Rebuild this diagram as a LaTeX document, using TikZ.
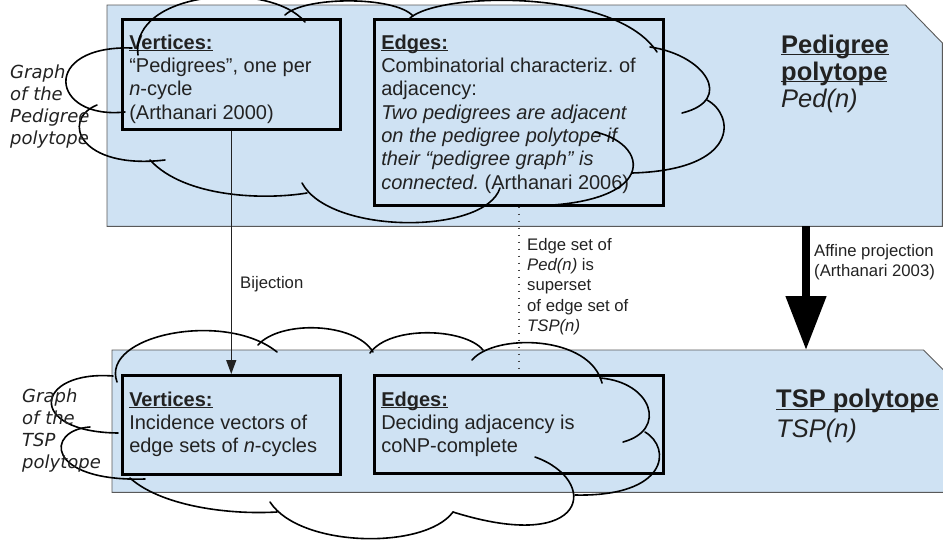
\documentclass[tikz,border=0pt]{standalone}
\usepackage{fontspec}
\setmainfont{Liberation Sans}
\newfontfamily\handfont{DejaVu Sans}
\usetikzlibrary{arrows.meta}
\frenchspacing

\definecolor{panelblue}{HTML}{CFE2F3}
\definecolor{panelline}{HTML}{595959}
\definecolor{inktext}{HTML}{222222}

\newcommand{\cellbody}[4]{\parbox[c][#1][t]{#2}{\raggedright\rule{0pt}{#3}#4}}
\newcommand{\headline}[1]{\underline{\raisebox{0pt}[\height][0pt]{#1}}}

\tikzset{
  panelbox/.style={inner sep=0pt, anchor=north west},
  panelshape/.style={fill=panelblue, draw=panelline, line width=0.9pt},
  infobox/.style={draw, line width=2.5pt, inner xsep=7pt, inner ysep=0pt, anchor=north west,
    text=inktext, font=\fontsize{20}{23.3}\selectfont},
  titletext/.style={anchor=north west, inner sep=0pt, align=left, text=inktext},
  smalltext/.style={inner sep=0pt, align=left, text=inktext, font=\fontsize{16.7}{20.3}\selectfont},
  handnote/.style={anchor=north west, inner sep=0pt, align=left, text=inktext,
    font=\handfont\itshape\fontsize{18}{22}\selectfont},
  cloudline/.style={line width=1.6pt, black, line cap=round},
  bijarrow/.style={draw=inktext, line width=1.3pt, -{Triangle[length=14pt,width=10pt]}},
  projarrow/.style={black, line width=8pt, -{Triangle[length=54pt,width=39pt]}},
  edgedots/.style={draw=inktext!85, line width=1.6pt, dash pattern=on 1.6pt off 5.4pt}
}

\begin{document}
\begin{tikzpicture}[x=1pt, y=-1pt]
  \useasboundingbox (0,0) rectangle (943,542);

  % the two polytopes
  \node[panelbox, minimum width=835pt, minimum height=221pt] (pedpanel) at (107,5) {};
  \filldraw[panelshape] (pedpanel.south west) -- (pedpanel.north west) -- ([xshift=-37pt]pedpanel.north east)
    -- ([yshift=-38pt]pedpanel.north east) -- (pedpanel.south east) -- cycle;
  \node[panelbox, minimum width=848pt, minimum height=142pt] (tsppanel) at (112,350) {};
  \filldraw[panelshape] (tsppanel.south west) -- (tsppanel.north west) -- ([xshift=-37pt]tsppanel.north east)
    -- ([yshift=-37pt]tsppanel.north east) -- (tsppanel.south east) -- cycle;

  \node[infobox] (pedvert) at (121,18) {\cellbody{110pt}{204pt}{30pt}{\textbf{\headline{Vertices:}}\\
    “Pedigrees”, one per\\ \textit{n}-cycle\\ (Arthanari 2000)}};
  \node[infobox] (pededge) at (373,18) {\cellbody{186pt}{275pt}{30pt}{\textbf{\headline{Edges:}}\\
    Combinatorial characteriz. of\\ adjacency:\\ \textit{Two pedigrees are adjacent}\\
    \textit{on the pedigree polytope if}\\ \textit{their “pedigree graph” is}\\
    \textit{connected.} (Arthanari 2006)}};
  \node[infobox] (tspvert) at (121,374) {\cellbody{99pt}{204pt}{31pt}{\textbf{\headline{Vertices:}}\\
    Incidence vectors of\\ edge sets of \textit{n}-cycles}};
  \node[infobox] (tspedge) at (373,374) {\cellbody{98pt}{275pt}{31pt}{\textbf{\headline{Edges:}}\\
    Deciding adjacency is\\ coNP-complete}};

  \node[titletext, font=\fontsize{25.5}{27}\selectfont] (pedtitle) at (781,34.5)
    {\textbf{\headline{Pedigree}}\\ \textbf{\headline{polytope}}\\ \textit{Ped(n)}};
  \node[titletext, font=\fontsize{25.5}{30}\selectfont] (tsptitle) at (776,388.7)
    {\textbf{\headline{TSP polytope}}\\ \textit{TSP(n)}};

  % graph clouds
  \draw[cloudline] (132,48) .. controls (40,45) and (50,120) .. (125,112);
  \draw[cloudline] (138,55) .. controls (130,-10) and (270,-20) .. (305,22);
  \draw[cloudline] (285,15) .. controls (305,-4) and (395,-4) .. (413,16);
  \draw[cloudline] (410,18) .. controls (440,-8) and (615,-12) .. (657,52);
  \draw[cloudline] (650,47) .. controls (705,55) and (735,100) .. (682,113);
  \draw[cloudline] (707,100) .. controls (735,115) and (740,170) .. (632,173);
  \draw[cloudline] (595,132) .. controls (655,145) and (660,215) .. (495,205);
  \draw[cloudline] (500,188) .. controls (485,235) and (330,235) .. (302,183);
  \draw[cloudline] (150,160) .. controls (185,198) and (265,200) .. (307,193);
  \draw[cloudline] (97,105) .. controls (60,120) and (80,170) .. (165,160);

  \draw[cloudline] (118,433) .. controls (25,432) and (35,370) .. (113,376);
  \draw[cloudline] (117,382) .. controls (100,335) and (225,310) .. (277,352);
  \draw[cloudline] (258,345) .. controls (280,320) and (355,322) .. (373,352);
  \draw[cloudline] (370,353) .. controls (390,325) and (465,328) .. (483,350);
  \draw[cloudline] (472,360) .. controls (495,333) and (590,335) .. (602,383);
  \draw[cloudline] (600,378) .. controls (652,382) and (668,430) .. (623,442);
  \draw[cloudline] (645,432) .. controls (672,448) and (668,497) .. (575,495);
  \draw[cloudline] (535,457) .. controls (600,480) and (590,555) .. (453,512);
  \draw[cloudline] (270,502) .. controls (300,548) and (425,550) .. (453,512);
  \draw[cloudline] (130,478) .. controls (160,505) and (225,515) .. (277,512);
  \draw[cloudline] (90,427) .. controls (45,430) and (45,482) .. (145,479);

  \node[handnote] (pedgraph) at (10,65) {Graph\\of the\\Pedigree\\polytope};
  \node[handnote] (tspgraph) at (22,388.3) {Graph\\of the\\TSP\\polytope};

  % relations
  \draw[bijarrow] (pedvert.south) -- (tspvert.north);
  \node[smalltext, anchor=base west] (bijlabel) at (240,288) {Bijection};

  \draw[edgedots] (pededge.south) -- ([yshift=6pt]tspedge.north);
  \node[smalltext, anchor=north west] (edgesetlabel) at (527,237.8)
    {Edge set of\\ \textit{Ped(n)} is\\ superset\\ of edge set of\\ \textit{TSP(n)}};

  \node[smalltext, anchor=north west, font=\fontsize{16.7}{20}\selectfont] (projlabel) at (814,243.8)
    {Affine projection\\ (Arthanari 2003)};
  \coordinate (projx) at ([xshift=-8pt]projlabel.west);
  \draw[projarrow] (projx |- pedpanel.south) -- (projx |- tsppanel.north);
\end{tikzpicture}
\end{document}
